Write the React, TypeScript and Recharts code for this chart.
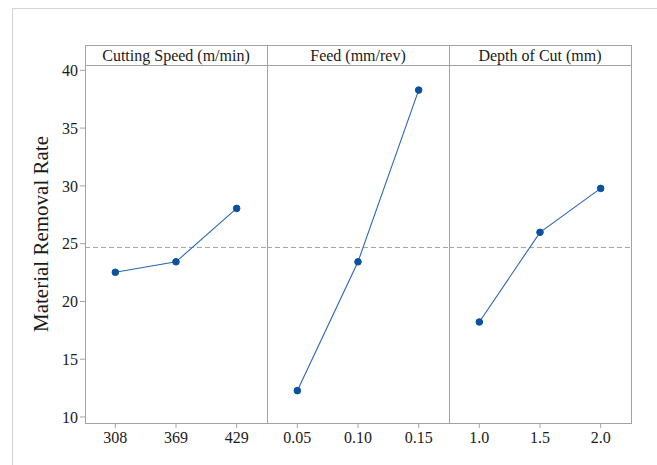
import { LineChart, Line, XAxis, YAxis, ReferenceLine } from 'recharts'

const panelTitles = ['Cutting Speed (m/min)', 'Feed (mm/rev)', 'Depth of Cut (mm)']
const speedLevels = ['308', '369', '429']
const speedMRR = [22.52, 23.43, 28.05]
const feedLevels = ['0.05', '0.10', '0.15']
const feedMRR = [12.28, 23.43, 38.29]
const depthLevels = ['1.0', '1.5', '2.0']
const depthMRR = [18.22, 25.98, 29.78]
const yTicks = [10, 15, 20, 25, 30, 35, 40]
const grandMean = 24.67

const FONT = '"Liberation Serif", "Times New Roman", serif'
const GRAY = '#a3a3a3'
const BLUE = '#0a52a0'

const PLOT_LEFT = 85
const PANEL_W = 182
const PLOT_TOP = 65
const PLOT_BOTTOM = 423
const HEAD_TOP = 45

function Panel({ index, levels, values }: { index: number; levels: string[]; values: number[] }) {
  const data = values.map((v, i) => ({ x: i + 1, y: v }))
  const showY = index === 0
  const chartLeft = showY ? 0 : PLOT_LEFT + PANEL_W * index
  const width = showY ? PLOT_LEFT + PANEL_W : PANEL_W
  const tickStyle = { fill: '#1a1a1a', fontSize: 16, fontFamily: FONT }
  return (
    <div style={{ position: 'absolute', left: chartLeft, top: 0 }}>
      <LineChart
        width={width}
        height={465}
        data={data}
        margin={{ top: PLOT_TOP, right: 0, bottom: 465 - PLOT_BOTTOM - 30, left: 0 }}
      >
        <XAxis
          type="number"
          dataKey="x"
          domain={[0.5, 3.5]}
          ticks={[1, 2, 3]}
          tickFormatter={(v) => levels[v - 1]}
          height={30}
          axisLine={false}
          tickLine={{ stroke: GRAY }}
          tickSize={5}
          tickMargin={4}
          fontSize={16}
          tick={tickStyle}
          allowDataOverflow
        />
        <YAxis
          type="number"
          domain={[9.48, 40.46]}
          ticks={yTicks}
          hide={!showY}
          width={PLOT_LEFT}
          axisLine={false}
          tickLine={{ stroke: GRAY }}
          tickSize={5}
          tickMargin={2}
          fontSize={16}
          tick={tickStyle}
          allowDataOverflow
        />
        <ReferenceLine y={grandMean} stroke={GRAY} strokeDasharray="5 3" />
        <Line
          dataKey="y"
          stroke="#2a68b0"
          strokeWidth={1.1}
          dot={{ r: 3.3, fill: BLUE, stroke: BLUE, strokeWidth: 1 }}
          isAnimationActive={false}
        />
      </LineChart>
    </div>
  )
}

export default function App() {
  const right = PLOT_LEFT + PANEL_W * 3
  return (
    <div
      style={{
        position: 'absolute',
        left: 0,
        top: 0,
        width: 657,
        height: 465,
        overflow: 'hidden',
        background: '#fff',
        fontFamily: FONT,
      }}
    >
      <div
        style={{
          position: 'absolute',
          left: 12,
          top: 8,
          width: 800,
          height: 600,
          border: '1px solid #d4d4d4',
        }}
      />
      <Panel index={0} levels={speedLevels} values={speedMRR} />
      <Panel index={1} levels={feedLevels} values={feedMRR} />
      <Panel index={2} levels={depthLevels} values={depthMRR} />
      <svg
        width={657}
        height={465}
        style={{ position: 'absolute', left: 0, top: 0, pointerEvents: 'none' }}
      >
        <rect
          x={PLOT_LEFT + 0.5}
          y={HEAD_TOP + 0.5}
          width={PANEL_W * 3}
          height={PLOT_BOTTOM - HEAD_TOP}
          fill="none"
          stroke={GRAY}
        />
        <line x1={PLOT_LEFT} x2={right} y1={PLOT_TOP + 0.5} y2={PLOT_TOP + 0.5} stroke={GRAY} />
        {[1, 2].map((i) => (
          <line
            key={i}
            x1={PLOT_LEFT + PANEL_W * i + 0.5}
            x2={PLOT_LEFT + PANEL_W * i + 0.5}
            y1={HEAD_TOP}
            y2={PLOT_BOTTOM}
            stroke={GRAY}
          />
        ))}
        {panelTitles.map((t, i) => (
          <text
            key={t}
            x={PLOT_LEFT + PANEL_W * i + PANEL_W / 2}
            y={60.5}
            textAnchor="middle"
            fontSize={16}
            fontFamily={FONT}
            fill="#1a1a1a"
          >
            {t}
          </text>
        ))}
        <text
          x={47.5}
          y={234}
          transform="rotate(-90 47.5 234)"
          textAnchor="middle"
          fontSize={21}
          fontFamily={FONT}
          fill="#1a1a1a"
        >
          Material Removal Rate
        </text>
      </svg>
    </div>
  )
}
